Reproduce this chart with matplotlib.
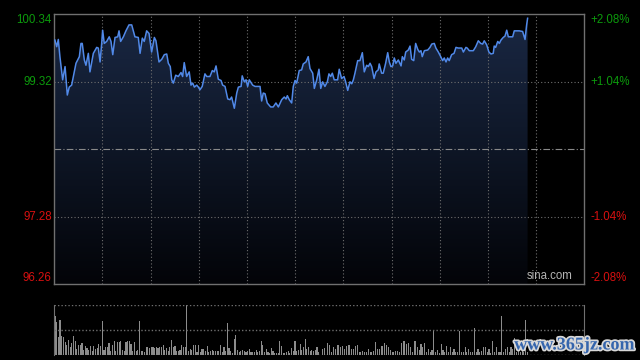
import numpy as np
import matplotlib
matplotlib.use("Agg")
import matplotlib.pyplot as plt
import matplotlib.patheffects as pe
from matplotlib.patches import Polygon

# intraday price, minutes since open (HK session: 330 minutes)
t = [0.4, 1.5, 2.5, 3.5, 5.2, 6.7, 8.1, 9.3, 10.8, 13.5, 15.6, 16.6, 17.4, 18.7, 19.7,
     21.2, 22.2, 24.3, 26.4, 27.4, 28.5, 29.5, 30.1, 31.1, 32.6, 34.2, 35.3, 36.4, 37.8,
     39.5, 40.3, 41.3, 43.0, 44.6, 46.5, 48.2, 50.2, 52.3, 53.4, 54.8, 56.0, 57.5, 59.0,
     60.6, 62.3, 63.3, 65.2, 66.9, 68.5, 70.0, 71.0, 72.2, 73.1, 74.1, 75.6, 77.2, 78.9,
     79.9, 80.9, 82.4, 84.0, 85.1, 86.2, 87.2, 88.7, 89.7, 90.7, 92.1, 93.8, 94.9, 96.9,
     98.4, 99.6, 100.7, 102.1, 103.8, 104.8, 106.3, 108.0, 109.4, 110.4, 112.1, 113.6,
     114.6, 116.3, 117.0, 118.3, 119.4, 120.4, 121.4, 123.5, 125.0, 128.1, 129.1, 130.1,
     131.2, 132.6, 134.7, 136.3, 138.0, 139.5, 141.6, 143.2, 144.3, 145.1, 146.3, 147.8,
     148.8, 149.9, 150.9, 152.5, 154.0, 155.0, 156.7, 158.1, 159.2, 160.9, 161.9, 163.4,
     164.8, 165.9, 167.1, 168.5, 170.0, 171.0, 172.1, 173.1, 174.3, 176.4, 177.4, 178.9,
     180.4, 181.4, 182.7, 184.1, 185.2, 186.2, 187.2, 188.9, 190.3, 191.8, 193.0, 194.5,
     195.5, 196.6, 197.6, 199.1, 200.3, 201.7, 202.3, 203.8, 204.8, 206.3, 207.6, 208.6,
     209.6, 210.7, 211.7, 212.7, 214.2, 215.9, 216.7, 217.9, 218.8, 220.4, 221.5, 222.5,
     223.8, 225.0, 226.3, 227.3, 228.3, 229.1, 230.4, 232.5, 233.9, 235.0, 236.6, 237.6,
     239.1, 240.6, 241.8, 242.8, 243.9, 244.9, 245.9, 247.4, 248.9, 250.1, 251.5, 253.7,
     254.7, 256.3, 257.1, 258.4, 260.9, 262.4, 264.0, 265.5, 266.7, 267.7, 269.2, 270.6,
     271.9, 273.3, 273.9, 274.8, 276.1, 277.1, 278.1, 279.5, 280.6, 281.7, 282.7, 285.4,
     286.4, 289.5, 291.6, 293.1, 294.1, 294.7]
price = [99.95, 99.85, 99.96, 99.70, 99.35, 99.55, 99.12, 99.24, 99.27, 99.60, 99.70, 99.90,
         99.90, 99.65, 99.57, 99.75, 99.47, 99.75, 99.84, 99.83, 99.62, 99.90, 100.10, 99.90,
         99.93, 100.00, 99.93, 99.73, 99.99, 100.00, 100.09, 99.93, 100.00, 100.09, 100.18,
         100.18, 100.00, 99.99, 99.75, 99.98, 99.93, 100.09, 100.05, 99.77, 99.99, 99.94,
         99.62, 99.66, 99.73, 99.74, 99.60, 99.55, 99.35, 99.30, 99.42, 99.40, 99.46, 99.40,
         99.61, 99.40, 99.47, 99.27, 99.30, 99.24, 99.27, 99.24, 99.20, 99.25, 99.44, 99.40,
         99.40, 99.49, 99.47, 99.56, 99.36, 99.34, 99.27, 99.25, 99.06, 99.05, 99.09, 98.92,
         99.15, 99.24, 99.25, 99.41, 99.32, 99.35, 99.25, 99.35, 99.27, 99.25, 99.25, 99.03,
         99.15, 99.14, 99.00, 98.94, 98.94, 99.00, 98.94, 99.05, 99.09, 99.06, 99.11, 99.05,
         99.00, 99.25, 99.34, 99.30, 99.49, 99.50, 99.59, 99.62, 99.70, 99.52, 99.45, 99.22,
         99.35, 99.51, 99.22, 99.32, 99.25, 99.32, 99.44, 99.40, 99.45, 99.35, 99.35, 99.51,
         99.37, 99.40, 99.32, 99.19, 99.32, 99.29, 99.35, 99.45, 99.64, 99.64, 99.76, 99.47,
         99.57, 99.55, 99.60, 99.55, 99.37, 99.47, 99.50, 99.59, 99.45, 99.45, 99.60, 99.76,
         99.62, 99.55, 99.56, 99.68, 99.60, 99.65, 99.56, 99.70, 99.65, 99.77, 99.80, 99.86,
         99.66, 99.64, 99.90, 99.81, 99.77, 99.79, 99.70, 99.79, 99.80, 99.84, 99.89, 99.90,
         99.83, 99.77, 99.70, 99.64, 99.68, 99.62, 99.68, 99.64, 99.73, 99.75, 99.84, 99.83,
         99.83, 99.77, 99.84, 99.83, 99.79, 99.79, 99.85, 99.94, 99.90, 99.89, 99.94, 99.88,
         99.77, 99.74, 99.75, 99.86, 99.84, 99.93, 99.90, 99.95, 99.99, 100.01, 100.10,
         100.00, 100.00, 100.09, 100.09, 100.08, 99.96, 100.18, 100.28]

prev_close = 98.30
price_ticks = [100.34, 99.32, 97.28, 96.26]
pct_labels = ["+2.08%", "+1.04%", "-1.04%", "-2.08%"]

# volume (relative), three stretches of one bar per minute
vol_a = [39, 33, 18, 35, 19, 18, 13, 10, 15, 8, 12, 19, 14, 6, 10, 10, 12, 5, 9, 7, 5, 9, 4, 9,
         6, 7, 11, 9, 34, 5, 8, 8, 12, 4, 10, 14, 4, 13, 13, 14, 5, 4, 13, 14, 14, 11, 4, 13, 4,
         5, 34, 4, 4, 3, 8, 8, 7, 8, 8, 7, 8, 7, 8, 8, 10, 5, 7, 4, 8, 15, 8, 9, 4, 4, 5, 10, 8,
         8, 50, 4, 6, 5, 10, 10, 3, 10, 3, 6, 6, 4, 9, 3, 4, 5, 4, 4, 4, 4, 10, 3, 8, 4, 32, 7,
         4, 2, 16, 20, 5, 3, 4, 5, 4, 3, 4, 6, 3, 3, 3, 5, 3, 4, 14, 10, 3, 6, 3, 2, 7, 4, 2, 2,
         2, 14, 9, 2, 2, 3, 4, 2, 7, 4, 14, 4, 5, 11, 5, 8, 16, 6, 8, 4, 5, 4, 5, 8, 3]
vol_b = [5.7, 7.3, 12, 10, 3, 8, 5.7, 10, 8, 8.7, 6.3, 8.7, 10, 5.7, 5.7, 8.7, 10, 3, 4, 3,
         3.3, 5.7, 3, 4, 13, 5.7, 5.7, 8.7, 12.3, 10, 8, 4.7, 3, 4, 4, 3, 12, 14, 10.7, 12, 8,
         3, 14, 8, 4.7]
vol_c = [11, 8.3, 11.7, 3.3, 5.7, 3.3, 5, 24, 3.3, 5, 1.7, 11, 5, 3.3, 9, 3.3, 7.7, 3.3, 5.7,
         3.3, 3.3, 24, 3.3, 3.3, 8.3, 3.3, 5.7, 3.3, 3.3, 26.7, 3.3, 5.7, 3.3, 4.3, 8.3, 8.3,
         3.3, 5.7, 1.7, 14.3, 3.3, 8.3, 3.3, 3.3, 39.3, 3.3, 5.7, 8.3, 3.3, 8.3, 5.7, 16.7, 3.3,
         5.7, 3.3, 11.7, 3.3, 35, 3.3]
vol_spans = [(0.4, 164.6), (167.1, 227.3), (228.3, 294.7)]

GRID = "#6e6e6e"
FRAME = "#707070"
GREEN = "#0c9a0c"
RED = "#d81010"

fig = plt.figure(figsize=(6.4, 3.6), dpi=100, facecolor="black")
ax = fig.add_axes([54.3 / 640, 75.7 / 360, 530 / 640, 270 / 360])
vax = fig.add_axes([54.3 / 640, 5 / 360, 530 / 640, 50 / 360])

# main price panel
ax.set_facecolor("black")

# gradient area under the line
grad = np.linspace(1, 0, 256).reshape(-1, 1)
cmap = matplotlib.colors.LinearSegmentedColormap.from_list("g", ["#030408", "#0e1626", "#1a2844"])
img = ax.imshow(grad, cmap=cmap, aspect="auto", extent=[0, t[-1], price_ticks[-1], price_ticks[0]],
                origin="upper", zorder=1)
poly = Polygon(list(zip(t, price)) + [(t[-1], price_ticks[-1]), (t[0], price_ticks[-1])],
               closed=True, transform=ax.transData, facecolor="none", edgecolor="none")
ax.add_patch(poly)
img.set_clip_path(poly)
ax.set_xlim(0, 330)
ax.set_ylim(price_ticks[-1], price_ticks[0])

for x in range(30, 330, 30):
    ax.axvline(x, color=GRID, lw=0.8, ls=(0, (1, 2)), zorder=2)
for y in [price_ticks[1], price_ticks[2]]:
    ax.axhline(y, color=GRID, lw=0.8, ls=(0, (1, 2)), zorder=2)
ax.axhline(prev_close, color="#8a8a8a", lw=0.8, ls=(0, (6, 2, 1, 2)), zorder=2)

ax.plot(t, price, color="#5189e8", lw=1.1, zorder=3)

ax.set_xticks([])
ax.set_yticks([])
for s in ax.spines.values():
    s.set_color(FRAME)
    s.set_linewidth(1)

font = dict(family=["Liberation Sans", "DejaVu Sans"], fontsize=8.3)
colors = [GREEN, GREEN, RED, RED]
vas = ["top", "center", "center", "bottom"]
for val, lab, c, va in zip(price_ticks, pct_labels, colors, vas):
    ax.text(-0.005, val, f"{val:.2f}", transform=ax.get_yaxis_transform(), ha="right",
            va=va, color=c, **font)
    ax.text(1.011, val, lab, transform=ax.get_yaxis_transform(), ha="left",
            va=va, color=c, **font)

ax.text(0.978, 0.008, "sina.com", transform=ax.transAxes, ha="right", va="bottom",
        color="#b4b4b4", **font)

# volume panel
vax.set_facecolor("black")
for vals, (a, b) in zip([vol_a, vol_b, vol_c], vol_spans):
    vt = np.linspace(a, b, len(vals))
    vax.bar(vt, vals, width=0.7, color="#8c8c8c", align="center", zorder=2)
vax.set_xlim(0, 330)
vax.set_ylim(0, 50)
for y in [0, 25, 50]:
    vax.axhline(y, color=GRID, lw=1.0, ls=(0, (1, 1.5)), zorder=3)
vax.set_xticks([])
vax.set_yticks([])
vax.spines["top"].set_visible(False)
vax.spines["bottom"].set_visible(False)
vax.spines["left"].set_color(FRAME)
vax.spines["right"].set_color(FRAME)

fig.text(574 / 640, 15 / 360, "www.365jz.com", ha="center", va="center", fontsize=13,
         fontweight="bold", family=["Liberation Serif", "DejaVu Serif"], color="#3565ad",
         path_effects=[pe.withStroke(linewidth=2.5, foreground="#d8d8d8")])

fig.savefig("out.png", dpi=100, facecolor="black")
